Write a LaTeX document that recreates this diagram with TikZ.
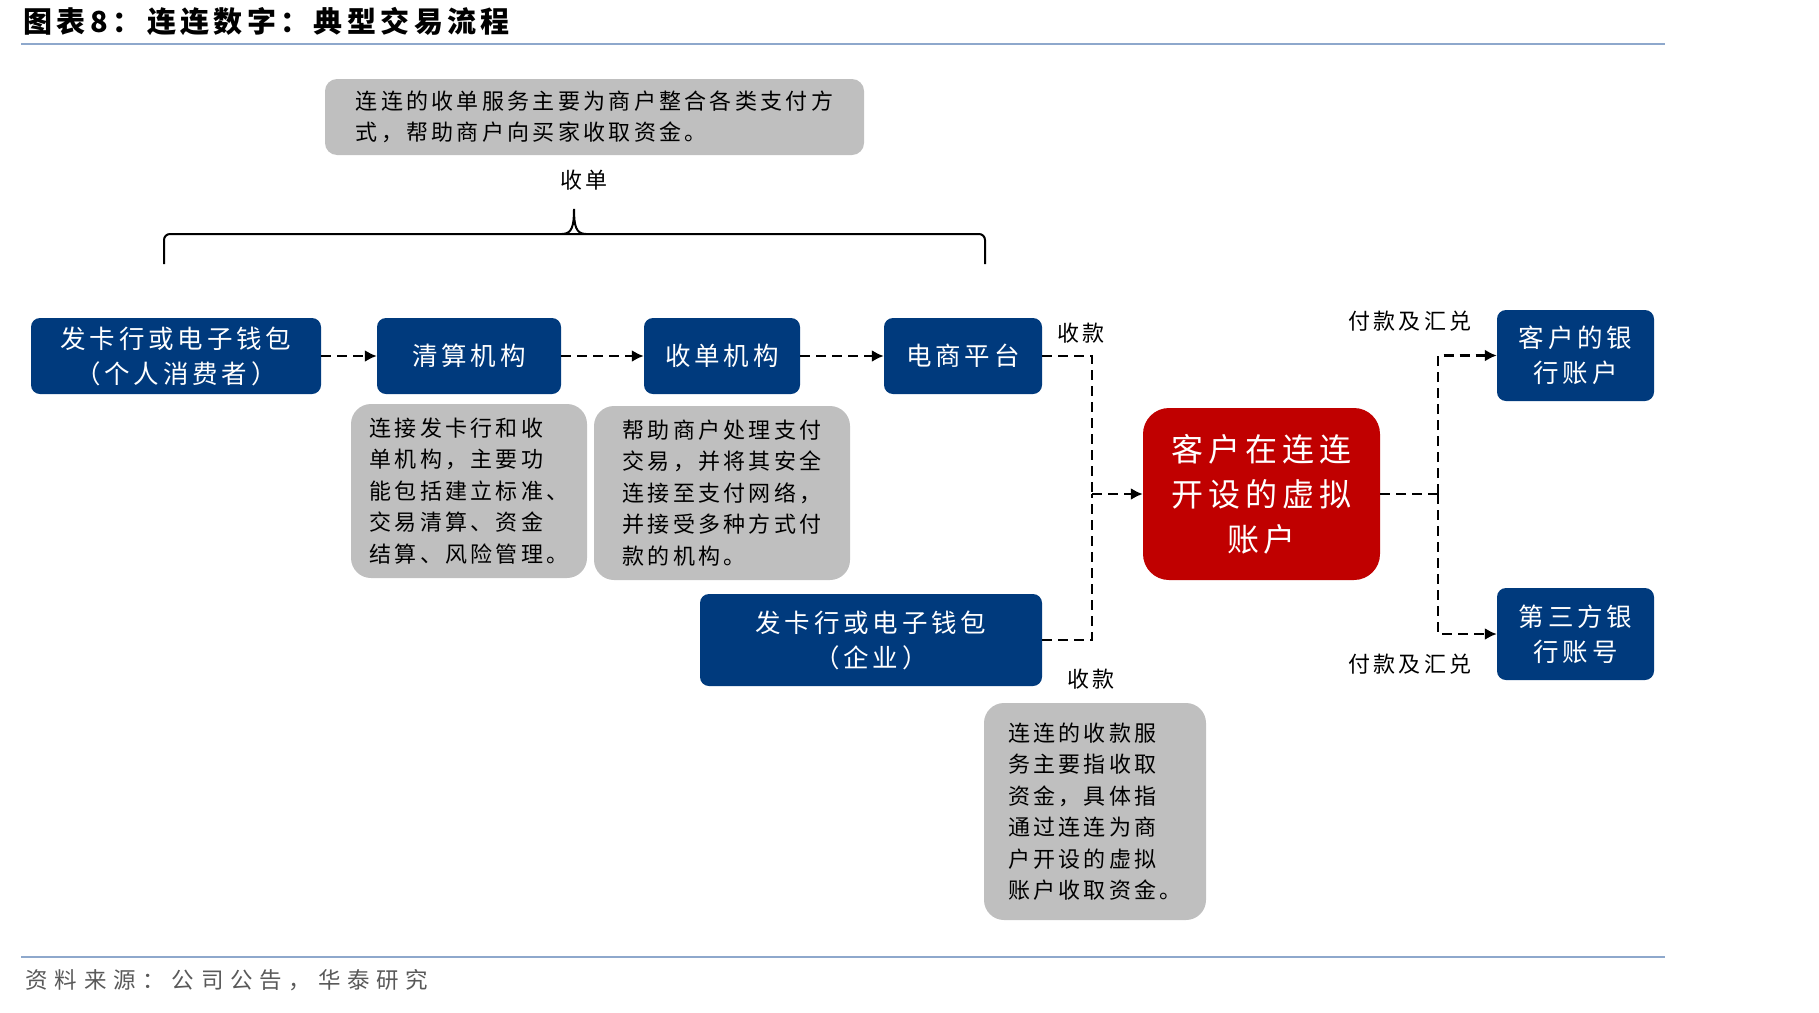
\documentclass[tikz,border=0pt]{standalone}
\usepackage{fontspec}
\setmainfont{Noto Sans CJK SC}[LetterSpace=15]
\usetikzlibrary{arrows.meta,positioning}
\definecolor{bankblue}{HTML}{003A7D}
\definecolor{accred}{HTML}{C00000}
\definecolor{notegray}{HTML}{BFBFBF}
\definecolor{rulecol}{HTML}{8EA8CC}
\definecolor{srcgray}{HTML}{595959}
\tikzstyle{bankbox}=[fill=bankblue, text=white, rounded corners=9pt, align=center,
  font=\fontsize{25.5}{35}\selectfont, inner sep=0pt]
\tikzstyle{note}=[fill=notegray, rounded corners=20pt, align=left,
  font=\fontsize{22}{31.5}\selectfont, inner sep=0pt]
\tikzstyle{account}=[bankbox, fill=accred, rounded corners=26pt,
  font=\fontsize{32}{45}\selectfont]
\tikzstyle{dline}=[draw, line width=2.8pt, dash pattern=on 10pt off 6pt]
\tikzstyle{line}=[dline, -{Latex[length=12pt,width=12pt]}]
\tikzstyle{flowlabel}=[font=\fontsize{22}{26}\selectfont, inner sep=0pt]
\tikzstyle{rule}=[draw=rulecol, line width=2pt]
\newcommand{\inst}[4]{node (#1) [bankbox, minimum width=#2pt,
  minimum height=#3pt] {#4}}
\newcommand{\remark}[4]{node (#1) [note, minimum width=#2pt,
  minimum height=#3pt] {#4}}

\begin{document}
\begin{tikzpicture}[x=1pt,y=-1pt]
  \useasboundingbox (0,0) rectangle (1819,1012);

  % Title and rules
  \node (title) [anchor=west, font=\fontsize{29}{32}\selectfont\bfseries]
    at (20,21) {图表8：\hspace{6pt}连连数字：典型交易流程};
  \path[rule] (21,44) -- (1665,44);
  \path[rule] (21,957) -- (1665,957);
  \node (source) [anchor=west, text=srcgray,
    font=\fontsize{22.5}{26}\selectfont\addfontfeature{LetterSpace=30}]
    at (22,980) {资料来源：公司公告，华泰研究};

  % Draw diagram elements
  \path (176,356) \inst{payer}{290}{76}{发卡行或电子钱包\\（个人消费者）};
  \path (469,356) \inst{clear}{184}{76}{清算机构};
  \path (722,356) \inst{acquirer}{156}{76}{收单机构};
  \path (963,356) \inst{ecom}{158}{76}{电商平台};
  \path (871,640) \inst{corp}{342}{92}{发卡行或电子钱包\\（企业）};
  \path (1575.5,355.5) \inst{cbank}{157}{91}{客户的银\\行账户};
  \path (1575.5,634) \inst{tbank}{157}{92}{第三方银\\行账号};
  \node (virtual) [account, minimum width=237pt, minimum height=172pt]
    at (1261.5,494) {客户在连连\\开设的虚拟\\账户};

  % Notes
  \path (594.5,117) node (acqnote) [note, rounded corners=12pt,
    minimum width=539pt, minimum height=76pt]
    {连连的收单服务主要为商户整合各类支付方\\式，帮助商户向买家收取资金。};
  \path (469,491) \remark{clearnote}{236}{174}{连接发卡行和收\\单机构，主要功\\能包括建立标准、\\交易清算、资金\\结算、风险管理。};
  \path (722,493) \remark{acqrnote}{256}{174}{帮助商户处理支付\\交易，并将其安全\\连接至支付网络，\\并接受多种方式付\\款的机构。};
  \path (1095,811.5) \remark{collnote}{222}{217}{连连的收款服\\务主要指收取\\资金，具体指\\通过连连为商\\户开设的虚拟\\账户收取资金。};

  % Brace over the acquiring chain
  \draw[line width=2pt, rounded corners=6pt]
    (164,264) -- (164,234) -- (985,234) -- (985,264);
  \draw[line width=2pt] (562,234) .. controls (572,234) and (574,226) .. (574,209)
    .. controls (574,226) and (576,234) .. (586,234);
  \node (acqlabel) [flowlabel] at (584,180) {收单};

  % Draw arrows between elements
  \path [line] (payer) -- (clear);
  \path [line] (clear) -- (acquirer);
  \path [line] (acquirer) -- (ecom);

  \coordinate (rv) at (1092,494);
  \coordinate (pv) at (1438,494);
  \path [dline] (ecom.east) -| (rv);
  \path [dline] (corp.east) -| (rv);
  \path [line] (rv) -- (virtual.west);
  \path [dline] (virtual.east) -- (pv);
  \path [line] (pv) |- (cbank.west);
  \path [line] (pv) |- (tbank.west);

  \node (coll1) [flowlabel] at (1081,333) {收款};
  \node (coll2) [flowlabel] at (1091,679) {收款};
  \node (pay1) [flowlabel] at (1410,321) {付款及汇兑};
  \node (pay2) [flowlabel] at (1410,664) {付款及汇兑};
\end{tikzpicture}
\end{document}
